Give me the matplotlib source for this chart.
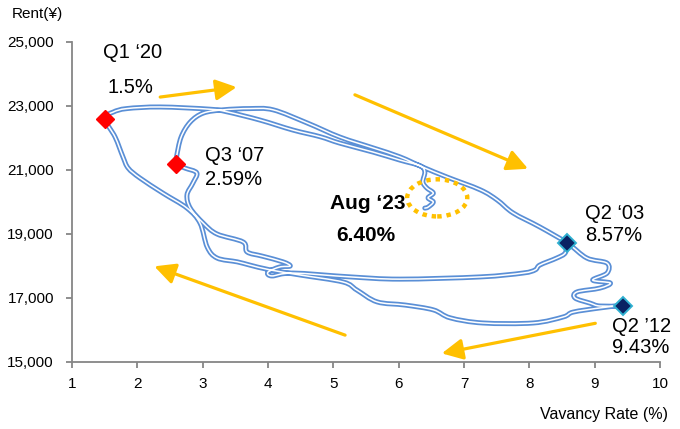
import matplotlib
matplotlib.use("Agg")
import matplotlib.pyplot as plt
import matplotlib.patheffects as pe
from matplotlib.patches import Ellipse, FancyArrowPatch, PathPatch
from matplotlib.path import Path
from matplotlib.ticker import FuncFormatter

plt.rcParams['font.family'] = ['Liberation Sans', 'DejaVu Sans']

# Vacancy rate (%) and rent (yen) path, Q2 '03 through Aug '23
vacancy = [
    # 2003 -> 2007
    8.57, 8.55, 8.42, 8.16, 8.09, 7.90, 7.25, 6.02, 5.26, 4.38,
    4.06, 4.00, 4.18, 4.34, 4.23, 3.91, 3.68, 3.62, 3.22, 3.01,
    2.81, 2.76, 2.85, 2.91, 2.73, 2.59,
    # 2007 -> 2012
    2.60, 2.67, 2.81, 3.01, 3.31, 3.72, 4.08, 4.60, 5.10, 5.61,
    6.02, 6.37, 6.74, 7.25, 7.51, 7.75, 8.16, 8.58, 8.88, 9.19,
    9.19, 8.97, 9.24, 9.08, 8.73, 8.70, 8.93, 9.08, 9.43,
    # 2012 -> 2020
    9.34, 9.08, 8.67, 8.52, 8.06, 7.29, 6.79, 6.53, 6.10, 5.67,
    5.36, 5.15, 4.49, 4.03, 3.72, 3.53, 3.22, 3.07, 2.96, 2.76,
    2.39, 2.04, 1.86, 1.78, 1.66, 1.50,
    # 2020 -> 2023
    1.63, 1.84, 2.35, 3.11, 3.37, 3.88, 4.38, 4.80, 5.10, 5.61,
    6.02, 6.33, 6.40, 6.37, 6.43, 6.53, 6.45, 6.53, 6.45, 6.40,
]
rent = [
    18700, 18400, 18240, 18020, 17870, 17770, 17650, 17580, 17650, 17770,
    17680, 17800, 17960, 17990, 18120, 18300, 18430, 18740, 18990, 19330,
    19800, 20210, 20580, 20900, 21050, 21180,
    21400, 22020, 22490, 22770, 22870, 22910, 22870, 22460, 22020, 21680,
    21400, 21080, 20770, 20370, 20050, 19650, 19210, 18710, 18240, 18080,
    17770, 17550, 17460, 17300, 17180, 16990, 16830, 16740, 16740,
    16740, 16680, 16550, 16400, 16210, 16210, 16370, 16620, 16770, 16870,
    17240, 17490, 17710, 17870, 18020, 18120, 18240, 18580, 19330, 19800,
    20270, 20740, 21050, 21400, 22020, 22600,
    22800, 22910, 22960, 22890, 22810, 22550, 22240, 22030, 21830, 21550,
    21300, 21120, 20930, 20620, 20430, 20270, 20120, 19990, 19830, 19800,
]

# Highlighted quarters
peak_vac = [1.5, 2.59]
peak_rent = [22600, 21180]

trough_vac = [8.57, 9.43]
trough_rent = [18700, 16740]

x_ticks = [1, 2, 3, 4, 5, 6, 7, 8, 9, 10]
y_ticks = [15000, 17000, 19000, 21000, 23000, 25000]

BLUE = "#5a8fd6"
ORANGE = "#ffc000"
GREY = "#868686"


def smooth_path(xs, ys):
    """Catmull-Rom style smoothed line through the points, as cubic Beziers."""
    pts = list(zip(xs, ys))
    n = len(pts)
    verts = [pts[0]]
    codes = [Path.MOVETO]
    for i in range(n - 1):
        p0 = pts[max(i - 1, 0)]
        p1 = pts[i]
        p2 = pts[i + 1]
        p3 = pts[min(i + 2, n - 1)]
        c1 = (p1[0] + (p2[0] - p0[0]) / 6, p1[1] + (p2[1] - p0[1]) / 6)
        c2 = (p2[0] - (p3[0] - p1[0]) / 6, p2[1] - (p3[1] - p1[1]) / 6)
        verts += [c1, c2, p2]
        codes += [Path.CURVE4] * 3
    return Path(verts, codes)


fig = plt.figure(figsize=(6.8, 4.29), dpi=100)
ax = fig.add_axes([72 / 680, (429 - 361.7) / 429, 588 / 680, 320 / 429])

ax.add_patch(PathPatch(smooth_path(vacancy, rent), fill=False,
                       edgecolor="white", lw=1.1, joinstyle="round",
                       capstyle="round", zorder=3,
                       path_effects=[pe.Stroke(linewidth=3.6, foreground=BLUE,
                                               joinstyle="round",
                                               capstyle="round"),
                                     pe.Normal()]))

ax.plot(peak_vac, peak_rent, linestyle="none", marker="D", ms=9.5,
        mfc="#ff0000", mec="#ff0000", zorder=5)
ax.plot(trough_vac, trough_rent, linestyle="none", marker="D", ms=9.5,
        mfc="#0a2263", mec="#2fb0d0", mew=1.4, zorder=5)

# Direction arrows
arrows = [((2.35, 23270), (3.52, 23580)),
          ((5.33, 23340), (7.98, 21030)),
          ((9.01, 16200), (6.66, 15260)),
          ((5.18, 15830), (2.26, 17980))]
for (x0, y0), (x1, y1) in arrows:
    ax.add_patch(FancyArrowPatch((x0, y0), (x1, y1),
                                 arrowstyle="-|>,head_length=0.9,head_width=0.45",
                                 mutation_scale=14, lw=2.3, color=ORANGE,
                                 shrinkA=0, shrinkB=0, zorder=2))

ax.add_patch(Ellipse((6.59, 20120), 0.92, 1160, fill=False, edgecolor=ORANGE,
                     lw=3.2, linestyle=(0, (1, 1.1)), zorder=4))

# Annotations
FS = 14.5
FSB = 15
ax.text(1.47, 24660, "Q1 \u201820", fontsize=FS, va="center", ha="left")
ax.text(1.54, 23580, "1.5%", fontsize=FS, va="center", ha="left")
ax.text(3.04, 21430, "Q3 \u201807", fontsize=FS, va="center", ha="left")
ax.text(3.04, 20680, "2.59%", fontsize=FS, va="center", ha="left")
ax.text(4.95, 19930, "Aug \u201823", fontsize=FSB, fontweight="bold",
        va="center", ha="left")
ax.text(5.04, 18930, "6.40%", fontsize=FSB, fontweight="bold",
        va="center", ha="left")
ax.text(8.85, 19620, "Q2 \u201803", fontsize=FS, va="center", ha="left")
ax.text(8.85, 18930, "8.57%", fontsize=FS, va="center", ha="left")
ax.text(9.27, 16090, "Q2 \u201912", fontsize=FS, va="center", ha="left")
ax.text(9.27, 15430, "9.43%", fontsize=FS, va="center", ha="left")

ax.set_xlim(1, 10)
ax.set_ylim(15000, 25000)
ax.set_xticks(x_ticks)
ax.set_yticks(y_ticks)
ax.yaxis.set_major_formatter(FuncFormatter(lambda v, p: f"{int(v):,}"))

for side in ("top", "right"):
    ax.spines[side].set_visible(False)
for side in ("left", "bottom"):
    ax.spines[side].set_color(GREY)
    ax.spines[side].set_linewidth(1.3)
ax.tick_params(axis="both", direction="out", length=4, width=1.3, color=GREY,
               labelsize=11, labelcolor="black")
ax.tick_params(axis="y", pad=9)
ax.tick_params(axis="x", pad=7)

fig.text(12 / 680, 1 - 14 / 429, "Rent(\u00a5)", fontsize=11, va="center", ha="left")
fig.text(668 / 680, 1 - 415 / 429, "Vavancy Rate (%)", fontsize=11.5,
         va="center", ha="right")

fig.savefig("out.png", dpi=100)
